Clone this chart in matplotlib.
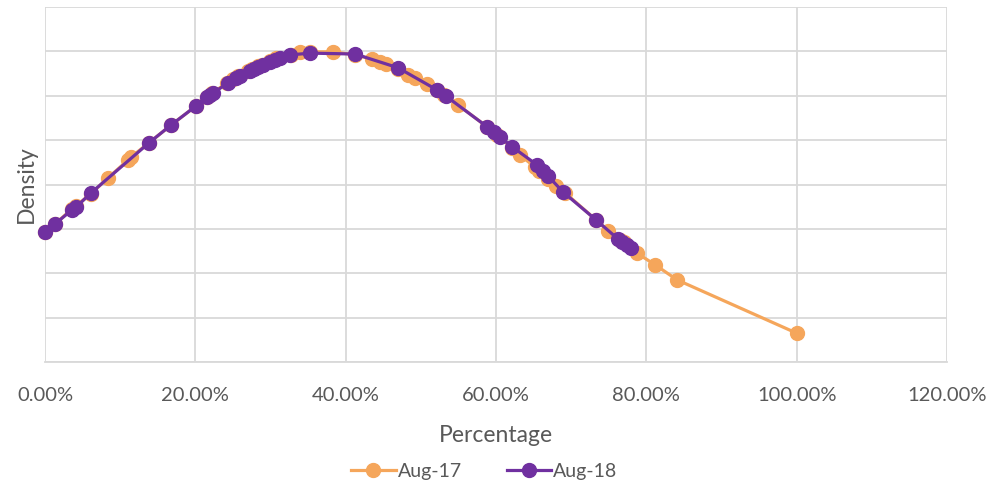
import matplotlib.pyplot as plt
from matplotlib.ticker import PercentFormatter

# Aug-17 series (percentage, density in grid units)
aug17_pct = [0.0, 1.33, 3.59, 4.12, 6.12, 8.38, 11.04, 11.44, 13.84, 16.77, 20.09, 21.56,
             22.22, 24.22, 25.02, 25.68, 27.01, 27.54, 28.34, 28.88, 29.94, 30.74, 32.73,
             33.93, 35.26, 38.32, 41.25, 43.51, 44.58, 45.38, 46.97, 48.30, 49.23, 50.83,
             52.16, 53.09, 54.96, 58.82, 60.15, 62.14, 63.21, 65.20, 65.74, 66.93, 68.00,
             69.20, 73.32, 74.92, 76.51, 77.05, 78.78, 81.17, 84.10, 100.0]
aug17_dens = [2.93, 3.11, 3.45, 3.52, 3.79, 4.15, 4.55, 4.62, 4.94, 5.34, 5.77, 5.97,
              6.06, 6.29, 6.38, 6.45, 6.56, 6.60, 6.67, 6.69, 6.78, 6.85, 6.92,
              6.99, 6.99, 6.99, 6.92, 6.83, 6.76, 6.72, 6.60, 6.47, 6.40, 6.26,
              6.13, 6.02, 5.79, 5.30, 5.12, 4.82, 4.66, 4.39, 4.30, 4.12, 3.97,
              3.81, 3.20, 2.95, 2.75, 2.70, 2.45, 2.19, 1.85, 0.65]

# Aug-18 series
aug18_pct = [0.0, 1.33, 3.59, 4.12, 6.12, 13.84, 16.77, 20.09, 21.56, 21.96, 22.36, 24.35,
             25.42, 25.95, 27.28, 27.81, 28.34, 29.01, 29.94, 30.61, 31.27, 32.60, 35.26,
             41.25, 46.97, 52.16, 53.36, 58.82, 59.75, 60.55, 62.14, 65.47, 66.27, 66.93,
             68.93, 73.32, 76.24, 76.78, 77.44, 77.98]
aug18_dens = [2.93, 3.11, 3.43, 3.49, 3.81, 4.94, 5.34, 5.77, 5.97, 6.02, 6.06, 6.29,
              6.40, 6.45, 6.56, 6.60, 6.65, 6.69, 6.76, 6.81, 6.85, 6.92, 6.96,
              6.94, 6.63, 6.13, 5.99, 5.30, 5.18, 5.07, 4.85, 4.44, 4.30, 4.19,
              3.83, 3.20, 2.77, 2.70, 2.64, 2.57]

plt.rcParams['font.family'] = ['Lato', 'DejaVu Sans']
grey = '#595959'

fig = plt.figure(figsize=(9.94, 4.92), dpi=100)
ax = fig.add_axes([0.0453, 0.2642, 0.9074, 0.7216])

ax.plot(aug17_pct, aug17_dens, color='#F5A65B', lw=2.3, marker='o', ms=10,
        label='Aug-17', clip_on=False)
ax.plot(aug18_pct, aug18_dens, color='#7030A0', lw=2.3, marker='o', ms=10,
        label='Aug-18', clip_on=False)

ax.set_xlim(0, 120)
ax.set_ylim(0, 8)
ax.set_xticks(range(0, 121, 20))
ax.set_yticks(range(0, 9))
ax.xaxis.set_major_formatter(PercentFormatter(100, decimals=2))
ax.tick_params(axis='x', length=0, pad=18, labelsize=14.5, labelcolor=grey)
ax.tick_params(axis='y', length=0, labelleft=False)
ax.grid(True, color='#D9D9D9', lw=1.3)
ax.set_axisbelow(True)
for s in ['top', 'right', 'left']:
    ax.spines[s].set_visible(False)
ax.spines['bottom'].set_color('#D9D9D9')
ax.spines['bottom'].set_linewidth(1.3)

ax.set_xlabel('Percentage', fontsize=16.5, color=grey, labelpad=15)
ax.set_ylabel('Density', fontsize=16.5, color=grey, labelpad=6)

ax.legend(loc='upper center', bbox_to_anchor=(0.487, -0.235), ncol=2, frameon=False,
          fontsize=14, labelcolor=grey, handlelength=2.3, columnspacing=2.3,
          handletextpad=0.1)

fig.savefig('out.png', dpi=100)
